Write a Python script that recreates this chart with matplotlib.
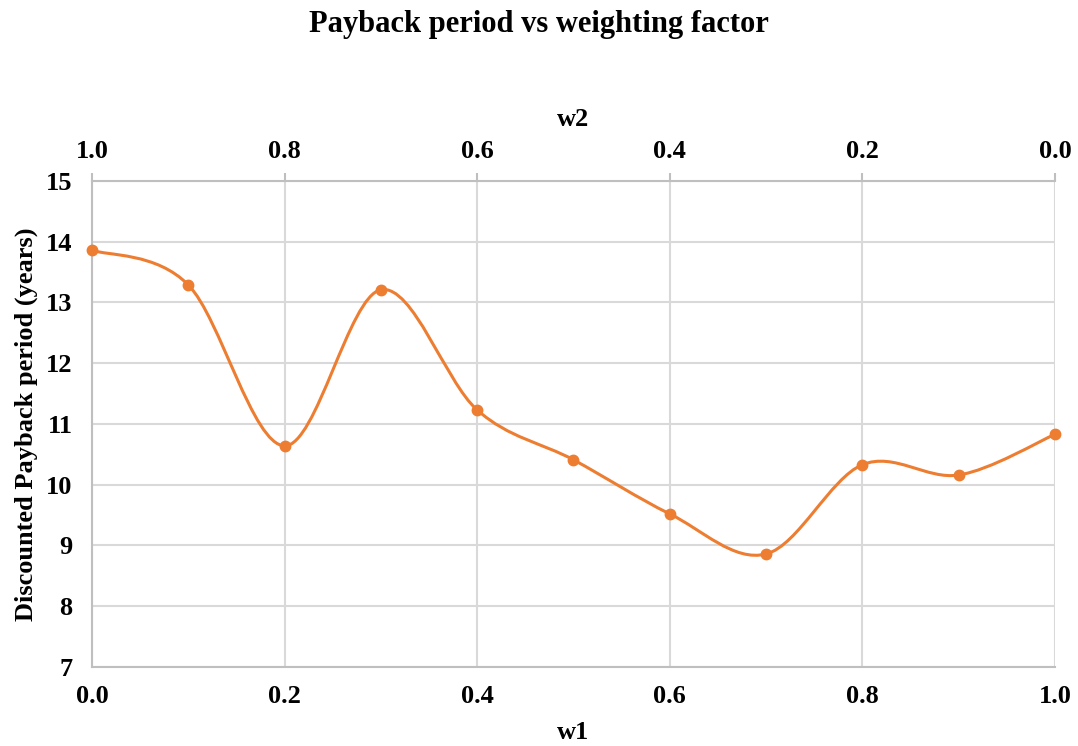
import numpy as np
import matplotlib
matplotlib.use("Agg")
import matplotlib.pyplot as plt
from matplotlib.path import Path
from matplotlib.patches import PathPatch

# data
w1 = [0.0, 0.1, 0.2, 0.3, 0.4, 0.5, 0.6, 0.7, 0.8, 0.9, 1.0]
payback = [13.86, 13.29, 10.64, 13.21, 11.23, 10.41, 9.52, 8.86, 10.33, 10.16, 10.83]
w1_ticks = [0.0, 0.2, 0.4, 0.6, 0.8, 1.0]
w2_ticks = [1.0, 0.8, 0.6, 0.4, 0.2, 0.0]
y_ticks = [7, 8, 9, 10, 11, 12, 13, 14, 15]

orange = "#ED7D31"
grid_c = "#D9D9D9"
axis_c = "#BFBFBF"

plt.rcParams['font.family'] = ['Liberation Serif', 'DejaVu Serif']
plt.rcParams['font.weight'] = 'bold'


def smooth_path(xs, ys):
    # Excel style smoothed line: Catmull-Rom segments as cubic Beziers
    pts = np.column_stack([xs, ys])
    n = len(pts)
    verts = [pts[0]]
    codes = [Path.MOVETO]
    for i in range(n - 1):
        p0 = pts[i - 1] if i > 0 else pts[i]
        p1 = pts[i]
        p2 = pts[i + 1]
        p3 = pts[i + 2] if i + 2 < n else pts[i + 1]
        c1 = p1 + (p2 - p0) / 6.0
        c2 = p2 - (p3 - p1) / 6.0
        verts += [c1, c2, p2]
        codes += [Path.CURVE4] * 3
    return Path(verts, codes)


fig = plt.figure(figsize=(10.78, 7.46), dpi=100)
ax = fig.add_axes([0.0853, 0.1059, 0.8934, 0.6515])

ax.set_xlim(0, 1)
ax.set_ylim(7, 15)
ax.set_xticks(w1_ticks)
ax.set_xticklabels(["%.1f" % v for v in w1_ticks])
ax.set_yticks(y_ticks)
ax.grid(True, color=grid_c, linewidth=1.5)
ax.set_axisbelow(True)

patch = PathPatch(smooth_path(w1, payback), facecolor="none",
                  edgecolor=orange, linewidth=2.2, zorder=3)
ax.add_patch(patch)
ax.plot(w1, payback, "o", color=orange, markersize=7.5, zorder=4,
        clip_on=False)

for s in ["left", "bottom", "top"]:
    ax.spines[s].set_color(axis_c)
    ax.spines[s].set_linewidth(1.5)
ax.spines["right"].set_visible(False)
ax.tick_params(axis="both", length=0, labelsize=19)
ax.tick_params(axis="y", pad=14)
ax.tick_params(axis="x", pad=13)

ax.set_xlabel("w1", fontsize=19, fontweight="bold", labelpad=9)
ax.set_ylabel("Discounted Payback period (years)", fontsize=19,
              fontweight="bold", labelpad=6)

top = ax.twiny()
top.set_xlim(1.0, 0.0)
top.set_xticks(w2_ticks)
top.set_xticklabels(["%.1f" % v for v in w2_ticks])
top.tick_params(axis="x", length=6, width=1.5, color=axis_c,
                labelsize=19, pad=7)
for s in top.spines.values():
    s.set_visible(False)
top.set_xlabel("w2", fontsize=19, fontweight="bold", labelpad=10)

fig.text(0.5, 0.967, "Payback period vs weighting factor", fontsize=22,
         fontweight="bold", ha="center", va="center")

fig.savefig("out.png", dpi=100)
